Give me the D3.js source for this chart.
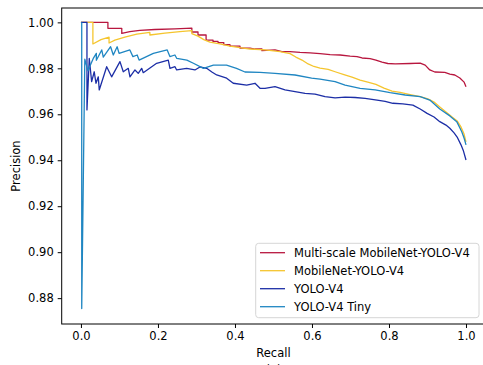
<!DOCTYPE html>
<html>
<head>
<meta charset="utf-8">
<script src="https://cdn.jsdelivr.net/npm/d3@7"></script>
<style>
  html, body { margin: 0; padding: 0; background: #fff; }
  svg { display: block; font-family: "DejaVu Sans", sans-serif; }
</style>
</head>
<body>
<svg id="chart" width="483" height="365"></svg>
<script>
// ---- data (recall, precision) ----
const seriesNames = ["Multi-scale MobileNet-YOLO-V4", "MobileNet-YOLO-V4", "YOLO-V4", "YOLO-V4 Tiny"];
const seriesColors = ["#b8173f", "#f5c52e", "#1c2ea6", "#1f86c2"];

const multiScale = [
  [0,1.0],[0.070,1.0],[0.070,0.9974],[0.106,0.9974],[0.106,0.9952],[0.127,0.9960],[0.153,0.9965],
  [0.192,0.9969],[0.244,0.9972],[0.288,0.9975],[0.288,0.9958],[0.304,0.9958],[0.304,0.9945],
  [0.325,0.9945],[0.325,0.9923],[0.343,0.9923],[0.343,0.9917],[0.356,0.9917],[0.356,0.9912],
  [0.371,0.9912],[0.371,0.9903],[0.387,0.9903],[0.387,0.9897],[0.413,0.9897],[0.413,0.9888],
  [0.439,0.9888],[0.452,0.9884],[0.470,0.9884],[0.470,0.9877],[0.504,0.9880],[0.522,0.9873],
  [0.543,0.9873],[0.569,0.9869],[0.595,0.9867],[0.621,0.9864],[0.647,0.9860],[0.673,0.9858],
  [0.699,0.9853],[0.717,0.9851],[0.730,0.9845],[0.751,0.9842],[0.766,0.9836],[0.782,0.9827],
  [0.797,0.9821],[0.816,0.9819],[0.855,0.9821],[0.881,0.9823],[0.894,0.9814],[0.906,0.9793],
  [0.919,0.9784],[0.945,0.9782],[0.958,0.9775],[0.971,0.9771],[0.984,0.9758],[0.995,0.9740],
  [1.0,0.9720]
];
const mobileNet = [
  [0,1.0],[0.031,1.0],[0.031,0.9906],[0.052,0.9925],[0.073,0.9936],[0.073,0.9910],[0.088,0.9923],
  [0.114,0.9936],[0.145,0.9949],[0.179,0.9956],[0.179,0.9945],[0.218,0.9953],[0.257,0.9960],
  [0.288,0.9964],[0.288,0.9951],[0.304,0.9940],[0.319,0.9925],[0.335,0.9914],[0.361,0.9906],
  [0.387,0.9897],[0.413,0.9890],[0.439,0.9884],[0.478,0.9880],[0.517,0.9873],[0.543,0.9864],
  [0.558,0.9849],[0.574,0.9836],[0.590,0.9819],[0.605,0.9808],[0.621,0.9801],[0.642,0.9795],
  [0.662,0.9784],[0.683,0.9773],[0.704,0.9762],[0.725,0.9749],[0.745,0.9740],[0.766,0.9730],
  [0.787,0.9714],[0.808,0.9701],[0.829,0.9695],[0.855,0.9686],[0.881,0.9677],[0.901,0.9667],
  [0.917,0.9653],[0.932,0.9632],[0.948,0.9610],[0.964,0.9588],[0.977,0.9571],[0.987,0.9545],
  [0.995,0.9514],[1.0,0.9480]
];
const yoloV4 = [
  [0,1.0],[0.0156,1.0],[0.0156,0.9619],[0.0216,0.9843],[0.0278,0.9742],[0.0345,0.9785],
  [0.039,0.9735],[0.045,0.9763],[0.0475,0.9706],[0.0668,0.9807],[0.0797,0.9763],[0.1013,0.9829],
  [0.1099,0.9785],[0.1229,0.9800],[0.1273,0.9763],[0.1403,0.9793],[0.1488,0.9778],[0.1577,0.9800],
  [0.1618,0.9781],[0.1966,0.9822],[0.2268,0.9836],[0.2312,0.9800],[0.2442,0.9807],[0.2486,0.9793],
  [0.2745,0.9800],[0.296,0.9793],[0.309,0.9806],[0.3265,0.9800],[0.340,0.9784],[0.3525,0.9771],
  [0.3784,0.9757],[0.3956,0.9735],[0.4304,0.9727],[0.452,0.9735],[0.465,0.9713],[0.478,0.9713],
  [0.504,0.9720],[0.530,0.9706],[0.556,0.9699],[0.582,0.9691],[0.608,0.9688],[0.634,0.9677],
  [0.660,0.9671],[0.686,0.9675],[0.712,0.9673],[0.738,0.9669],[0.769,0.9662],[0.790,0.9656],
  [0.810,0.9648],[0.836,0.9645],[0.862,0.9640],[0.881,0.9623],[0.899,0.9604],[0.917,0.9588],
  [0.932,0.9568],[0.948,0.9553],[0.958,0.9539],[0.969,0.9519],[0.977,0.9501],[0.987,0.9467],
  [0.9935,0.9440],[1.0,0.9401]
];
const yoloV4Tiny = [
  [0.002,1.0],[0.002,0.8755],[0.010,0.9840],[0.018,0.9790],[0.032,0.9843],[0.040,0.9865],
  [0.040,0.9835],[0.054,0.9880],[0.058,0.9849],[0.077,0.9894],[0.084,0.9858],[0.094,0.9894],
  [0.099,0.9865],[0.127,0.9880],[0.135,0.9851],[0.146,0.9858],[0.151,0.9836],[0.188,0.9865],
  [0.224,0.9880],[0.231,0.9851],[0.244,0.9858],[0.249,0.9843],[0.275,0.9836],[0.292,0.9822],
  [0.318,0.9800],[0.344,0.9814],[0.378,0.9814],[0.404,0.9800],[0.426,0.9784],[0.465,0.9782],
  [0.504,0.9778],[0.556,0.9771],[0.599,0.9757],[0.621,0.9753],[0.660,0.9742],[0.686,0.9727],
  [0.725,0.9713],[0.764,0.9706],[0.803,0.9694],[0.842,0.9684],[0.881,0.9677],[0.906,0.9662],
  [0.932,0.9623],[0.958,0.9593],[0.976,0.9568],[0.989,0.9524],[0.995,0.9497],[1.0,0.9467]
];
const allSeries = [multiScale, mobileNet, yoloV4, yoloV4Tiny];

const xTicks = [0.0, 0.2, 0.4, 0.6, 0.8, 1.0];
const yTicks = [0.88, 0.90, 0.92, 0.94, 0.96, 0.98, 1.00];
const xLabel = "Recall";
const yLabel = "Precision";
const subCaption = "(a)";

// ---- drawing ----
const svg = d3.select("#chart");
const L = 61.7, R = 485.25, T = 8, B = 324;
const x = d3.scaleLinear().domain([-0.05, 1.05]).range([L, R]);
const y = d3.scaleLinear().domain([0.86875, 1.00625]).range([B, T]);
const fs = 11.5;

svg.append("defs").append("clipPath").attr("id", "clip")
  .append("rect").attr("x", L).attr("y", T).attr("width", R - L).attr("height", B - T);

const line = d3.line().x(d => x(d[0])).y(d => y(d[1]));
const g = svg.append("g").attr("clip-path", "url(#clip)");
allSeries.forEach((s, i) => {
  g.append("path").datum(s)
    .attr("d", line)
    .attr("fill", "none")
    .attr("stroke", seriesColors[i])
    .attr("stroke-width", 1.3)
    .attr("stroke-linejoin", "round");
});

// axes
const xAxis = d3.axisBottom(x).tickValues(xTicks).tickFormat(d3.format(".1f")).tickSize(4).tickPadding(4);
const yAxis = d3.axisLeft(y).tickValues(yTicks).tickFormat(d3.format(".2f")).tickSize(4).tickPadding(4);
const gx = svg.append("g").attr("transform", `translate(0,${B})`).call(xAxis);
const gy = svg.append("g").attr("transform", `translate(${L},0)`).call(yAxis);
[gx, gy].forEach(a => {
  a.select(".domain").remove();
  a.selectAll("line").attr("stroke", "#000").attr("stroke-width", 1);
  a.selectAll("text").attr("font-size", fs).attr("fill", "#000").attr("font-family", "DejaVu Sans");
});

// spines
svg.append("rect").attr("x", L).attr("y", T).attr("width", R - L).attr("height", B - T)
  .attr("fill", "none").attr("stroke", "#000").attr("stroke-width", 1);

// axis labels
svg.append("text").attr("x", (L + R) / 2).attr("y", 357).attr("text-anchor", "middle")
  .attr("font-size", fs).text(xLabel);
svg.append("text").attr("x", (L + R) / 2).attr("y", 374).attr("text-anchor", "middle")
  .attr("font-size", fs).text(subCaption);
svg.append("text").attr("transform", `translate(20,${(T + B) / 2}) rotate(-90)`)
  .attr("text-anchor", "middle").attr("font-size", fs).text(yLabel);

// legend
const lg = svg.append("g");
lg.append("rect").attr("x", 255.7).attr("y", 243.3).attr("width", 223.3).attr("height", 74.4)
  .attr("rx", 3).attr("fill", "#fff").attr("fill-opacity", 0.8)
  .attr("stroke", "#d6d6d6").attr("stroke-width", 1);
seriesNames.forEach((name, i) => {
  const cy = 252.7 + i * 18;
  lg.append("line").attr("x1", 260).attr("x2", 285).attr("y1", cy).attr("y2", cy)
    .attr("stroke", seriesColors[i]).attr("stroke-width", 1.3);
  lg.append("text").attr("x", 294).attr("y", cy + 4).attr("font-size", fs).text(name);
});
</script>
</body>
</html>
